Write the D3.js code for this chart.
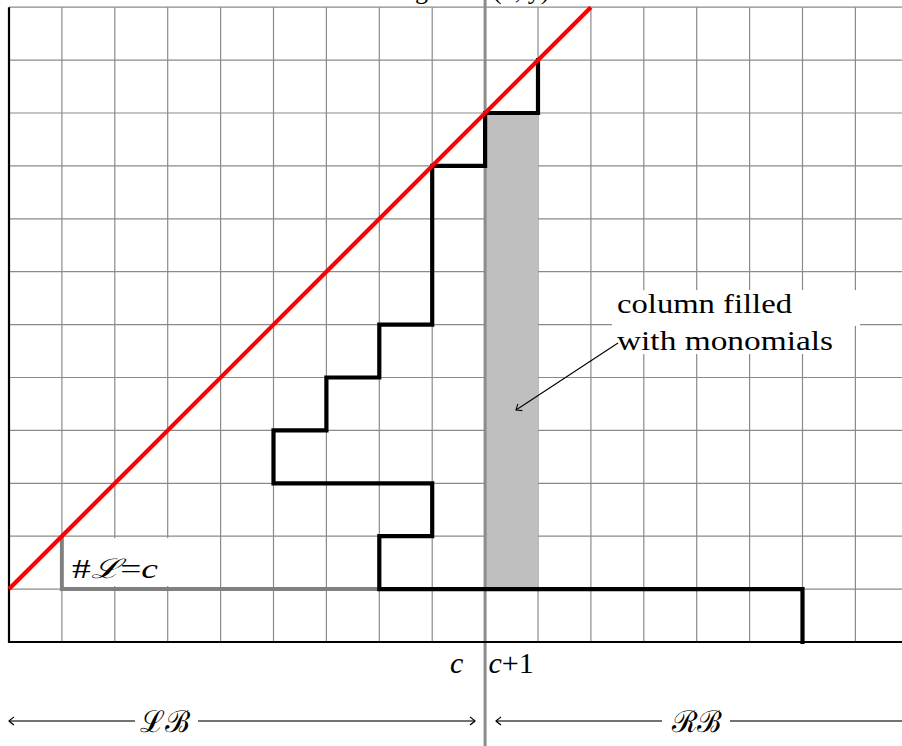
<!DOCTYPE html>
<html><head><meta charset="utf-8">
<script src="https://cdn.jsdelivr.net/npm/d3@7"></script>
<style>body{margin:0;background:#fff}svg{display:block}</style>
</head><body>
<svg id="c" width="902" height="746"></svg>
<script>
// ---- data (grid units) ----
const gridCols = d3.range(1, 17);          // vertical grid lines
const gridRows = d3.range(1, 13);          // horizontal grid lines
const stairX = [15,15,7,7,8,8,5,5,6,6,7,7,8,8,9,9,10,10];
const stairY = [0,1,1,2,2,3,3,4,4,5,5,6,6,9,9,10,10,11];
const diagX = [0, 11];
const diagY = [1, 12];
const lShapeX = [1, 1, 7];
const lShapeY = [2, 1, 1];
const filledCol = {x0: 9, x1: 10, y0: 1, y1: 10};
const dividerCol = 9;
const tickLabels = [{v: 8.5, t: "c"}, {v: 9.5, t: "c+1"}];
const annotation = ["column filled", "with monomials"];
const regionLabels = ["ℒℬ", "ℛℬ"];

const svg = d3.select("#c");
const U = 52.9;
const x = d3.scaleLinear().domain([0, 17]).range([9, 9 + 17 * U]);
const y = d3.scaleLinear().domain([0, 12]).range([642, 642 - 12 * U]);
const W = 902;
const SERIF = "'Liberation Serif', 'Times New Roman', serif";

// clipped title (mostly out of view in reference)
svg.append("text").attr("x", 470).attr("y", -1).attr("text-anchor", "middle")
  .attr("font-family", SERIF).attr("font-size", 26)
  .text("degree in (x, y)");

// grid
const g = svg.append("g").attr("stroke", "#8a8a8a").attr("stroke-width", 1.2);
g.selectAll(".v").data(gridCols).join("line")
  .attr("x1", d => x(d)).attr("x2", d => x(d)).attr("y1", y(12)).attr("y2", y(0));
g.selectAll(".h").data(gridRows).join("line")
  .attr("x1", x(0)).attr("x2", W).attr("y1", d => y(d)).attr("y2", d => y(d));

// filled column
svg.append("rect").attr("x", x(filledCol.x0)).attr("y", y(filledCol.y1))
  .attr("width", x(filledCol.x1) - x(filledCol.x0)).attr("height", y(filledCol.y0) - y(filledCol.y1))
  .attr("fill", "#bfbfbf");

// divider
svg.append("line").attr("x1", x(dividerCol)).attr("x2", x(dividerCol)).attr("y1", 0).attr("y2", 746)
  .attr("stroke", "#8c8c8c").attr("stroke-width", 3);

// axes
svg.append("line").attr("x1", x(0)).attr("x2", x(0)).attr("y1", y(12)).attr("y2", y(0)+1)
  .attr("stroke", "#000").attr("stroke-width", 2.2);
svg.append("line").attr("x1", x(0)).attr("x2", W).attr("y1", y(0)).attr("y2", y(0))
  .attr("stroke", "#000").attr("stroke-width", 2.2);

const line = d3.line().x(d => x(d[0])).y(d => y(d[1]));

// gray L shape
svg.append("path").attr("d", line(lShapeX.map((v, i) => [v, lShapeY[i]])))
  .attr("fill", "none").attr("stroke", "#808080").attr("stroke-width", 4);

// staircase
svg.append("path").attr("d", line(stairX.map((v, i) => [v, stairY[i]])))
  .attr("fill", "none").attr("stroke", "#000").attr("stroke-width", 4.2)
  .attr("stroke-linejoin", "miter").attr("stroke-linecap", "square");

// red diagonal
svg.append("path").attr("d", line(diagX.map((v, i) => [v, diagY[i]])))
  .attr("fill", "none").attr("stroke", "#ff0000").attr("stroke-width", 4.2);

// #L=c label
svg.append("rect").attr("x", x(1) + 2).attr("y", y(2) + 2).attr("width", 106).attr("height", U - 5).attr("fill", "#fff");
const lt = svg.append("text").attr("x", 72).attr("y", 578)
  .attr("font-family", SERIF).attr("font-size", 28)
  .attr("textLength", 86).attr("lengthAdjust", "spacingAndGlyphs");
lt.append("tspan").text("#");
lt.append("tspan").attr("font-family", "'DejaVu Serif', serif").attr("font-style", "italic").attr("font-size", 27).text("ℒ");
lt.append("tspan").text("=");
lt.append("tspan").attr("font-style", "italic").text("c");

// tick labels c, c+1
tickLabels.forEach((d, i) => {
  const t = svg.append("text").attr("x", i === 0 ? x(d.v) - 2 : x(d.v) - 0.5).attr("y", 673)
    .attr("text-anchor", "middle").attr("font-family", SERIF).attr("font-size", 30);
  if (d.t === "c") t.append("tspan").attr("font-style", "italic").text("c");
  else { t.append("tspan").attr("font-style", "italic").text("c"); t.append("tspan").text("+1"); }
});

// annotation
svg.append("rect").attr("x", 612).attr("y", 290).attr("width", 248).attr("height", 36).attr("fill", "#fff");
svg.append("rect").attr("x", 612).attr("y", 326).attr("width", 222).attr("height", 28).attr("fill", "#fff");
svg.append("text").attr("x", 617).attr("y", 313).attr("font-family", SERIF).attr("font-size", 28)
  .attr("textLength", 175).attr("lengthAdjust", "spacingAndGlyphs").text(annotation[0]);
svg.append("text").attr("x", 617).attr("y", 350).attr("font-family", SERIF).attr("font-size", 28)
  .attr("textLength", 216).attr("lengthAdjust", "spacingAndGlyphs").text(annotation[1]);

// arrow markers
const defs = svg.append("defs");
defs.append("marker").attr("id", "oa").attr("viewBox", "-6 -5 8 10").attr("refX", 0).attr("refY", 0)
  .attr("markerWidth", 8).attr("markerHeight", 10).attr("markerUnits", "userSpaceOnUse").attr("orient", "auto")
  .append("path").attr("d", "M-5,-4 Q-1,-1 0,0 Q-1,1 -5,4").attr("fill", "none").attr("stroke", "#000").attr("stroke-width", 1.1);
defs.append("marker").attr("id", "ob").attr("viewBox", "-6 -5 8 10").attr("refX", 0).attr("refY", 0)
  .attr("markerWidth", 8).attr("markerHeight", 10).attr("markerUnits", "userSpaceOnUse").attr("orient", "auto-start-reverse")
  .append("path").attr("d", "M-5,-4 Q-1,-1 0,0 Q-1,1 -5,4").attr("fill", "none").attr("stroke", "#000").attr("stroke-width", 1.1);

svg.append("line").attr("x1", 618).attr("y1", 343).attr("x2", 516).attr("y2", 410)
  .attr("stroke", "#000").attr("stroke-width", 1.1).attr("marker-end", "url(#oa)");

// bottom region arrows
const ay = 721;
svg.append("line").attr("x1", 9).attr("x2", 475).attr("y1", ay).attr("y2", ay)
  .attr("stroke", "#444").attr("stroke-width", 1.4)
  .attr("marker-start", "url(#ob)").attr("marker-end", "url(#oa)");
svg.append("line").attr("x1", 496).attr("x2", W + 5).attr("y1", ay).attr("y2", ay)
  .attr("stroke", "#444").attr("stroke-width", 1.4).attr("marker-start", "url(#ob)");
[[165, 135, 198], [697, 662, 730]].forEach((p, i) => {
  svg.append("rect").attr("x", p[1]).attr("y", ay - 18).attr("width", p[2] - p[1]).attr("height", 36).attr("fill", "#fff");
  svg.append("text").attr("x", p[0]).attr("y", ay + 11).attr("text-anchor", "middle")
    .attr("font-family", "'DejaVu Serif', serif").attr("font-size", 30)
    .attr("textLength", 50).attr("lengthAdjust", "spacingAndGlyphs").text(regionLabels[i]);
});
</script>
</body></html>
